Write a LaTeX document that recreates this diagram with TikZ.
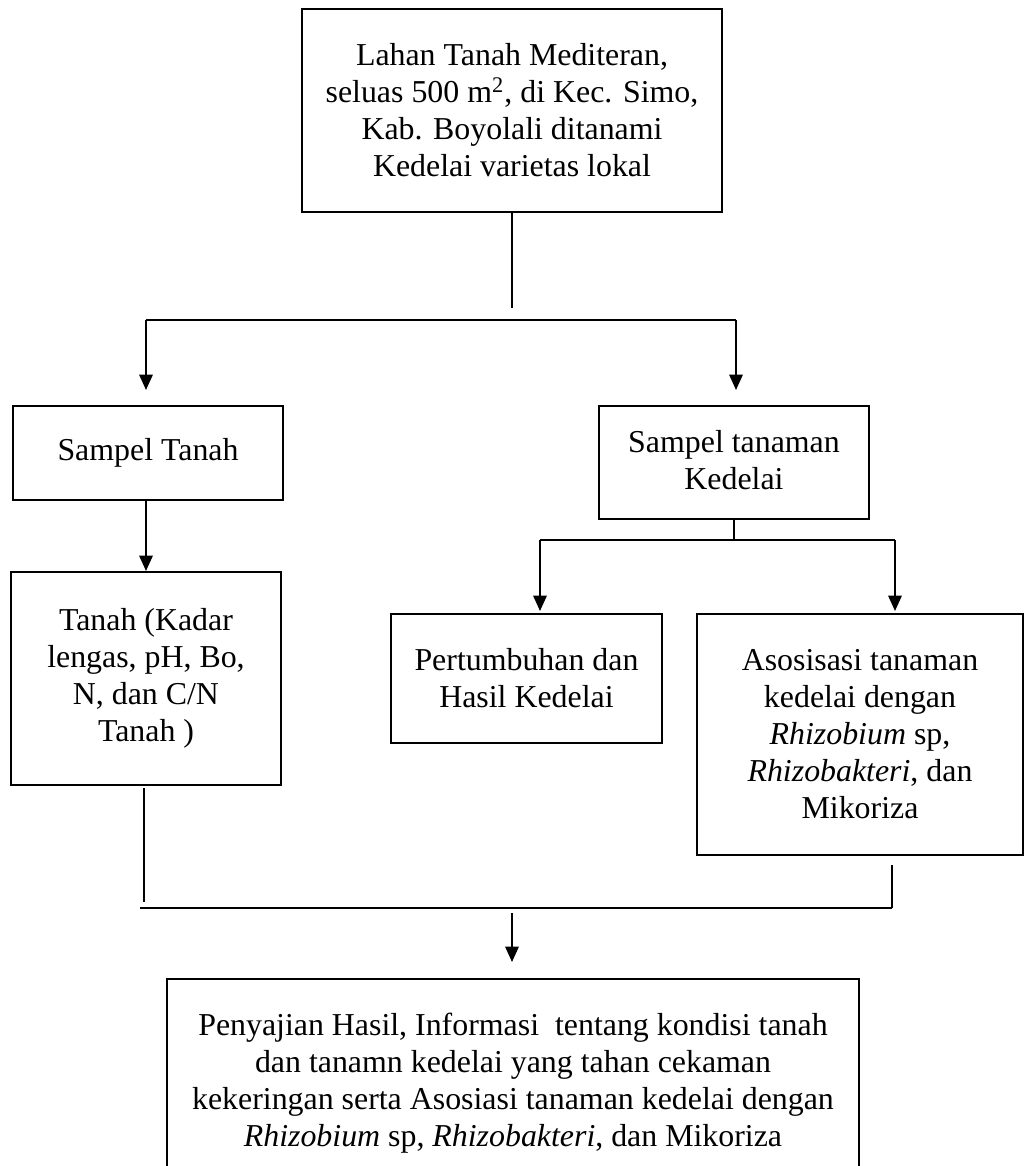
\documentclass[tikz,border=0pt]{standalone}
\usepackage{fontspec}
\setmainfont{Liberation Serif}
\usetikzlibrary{arrows.meta}

\begin{document}
\begin{tikzpicture}[
    x=0.4pt, y=-0.4pt,
    flowbox/.style={
        draw=black, line width=0.8pt, inner sep=0pt,
        align=center, font=\fontsize{12.75}{14.8}\selectfont
    },
    linestyle/.style={
        draw=black, line width=0.8pt
    },
    arrowstyle/.style={
        -{Triangle[width=5.4pt,length=6.2pt]}, line width=0.8pt
    }
]
\useasboundingbox (0,0) rectangle (1025,1166);

% Boxes
\node[flowbox, minimum width=168pt, minimum height=81.2pt] (lahan) at (512,110.5)
    {Lahan Tanah Mediteran,\\ seluas 500 m\textsuperscript{2}, di Kec. Simo,\\ Kab. Boyolali ditanami\\ Kedelai varietas lokal};
\node[flowbox, minimum width=108pt, minimum height=37.6pt] (stanah) at (148,453) {Sampel Tanah};
\node[flowbox, minimum width=108pt, minimum height=45.2pt, text depth=2pt] (stanaman) at (734,462.5) {Sampel tanaman\\ Kedelai};
\node[flowbox, minimum width=108pt, minimum height=85.2pt] (tanah) at (146,678.5)
    {Tanah (Kadar\\ lengas, pH, Bo,\\ N, dan C/N\\ Tanah )};
\node[flowbox, minimum width=108.4pt, minimum height=51.6pt] (tumbuh) at (526.5,678.5)
    {Pertumbuhan dan\\ Hasil Kedelai};
\node[flowbox, minimum width=130.4pt, minimum height=96.4pt] (asosiasi) at (860,734.5)
    {Asosisasi tanaman\\ kedelai dengan\\ \textit{Rhizobium} sp,\\ \textit{Rhizobakteri}, dan\\ Mikoriza};
\node[flowbox, minimum width=276.8pt, minimum height=83.2pt] (hasil) at (513,1083)
    {Penyajian Hasil, Informasi\ \ tentang kondisi tanah\\ dan tanamn kedelai yang tahan cekaman\\ kekeringan serta Asosiasi tanaman kedelai dengan\\ \textit{Rhizobium} sp, \textit{Rhizobakteri}, dan Mikoriza};

% Branch points
\coordinate (topleft)  at (146,320);
\coordinate (topright) at (736,320);
\coordinate (midleft)  at (540,540);
\coordinate (midright) at (895,540);
\coordinate (botleft)  at (140,908);
\coordinate (botright) at (892,908);
\coordinate (tanahend) at (144,902);
\coordinate (botmid)   at (512,913);

% Top split
\draw[linestyle, shorten >=4.8pt] (lahan.south) -- (lahan.south |- topleft);
\draw[linestyle] (topleft) -- (topright);
\draw[arrowstyle, shorten >=6pt] (topleft) -- (topleft |- stanah.north);
\draw[arrowstyle, shorten >=6pt] (topright) -- (topright |- stanaman.north);

% Soil branch
\draw[arrowstyle] (tanah.north |- stanah.south) -- (tanah.north);

% Plant branch
\draw[linestyle] (stanaman.south) -- (stanaman.south |- midleft);
\draw[linestyle] (midleft) -- (midright);
\draw[arrowstyle, shorten >=0.8pt] (midleft) -- (midleft |- tumbuh.north);
\draw[arrowstyle, shorten >=0.8pt] (midright) -- (midright |- asosiasi.north);

% Merge
\draw[linestyle, shorten <=0.8pt] (tanah.south -| tanahend) -- (tanahend);
\draw[linestyle, shorten <=3.6pt] (asosiasi.south -| botright) -- (botright);
\draw[linestyle] (botleft) -- (botright);
\draw[arrowstyle, shorten >=6.4pt] (botmid) -- (botmid |- hasil.north);

\end{tikzpicture}
\end{document}
